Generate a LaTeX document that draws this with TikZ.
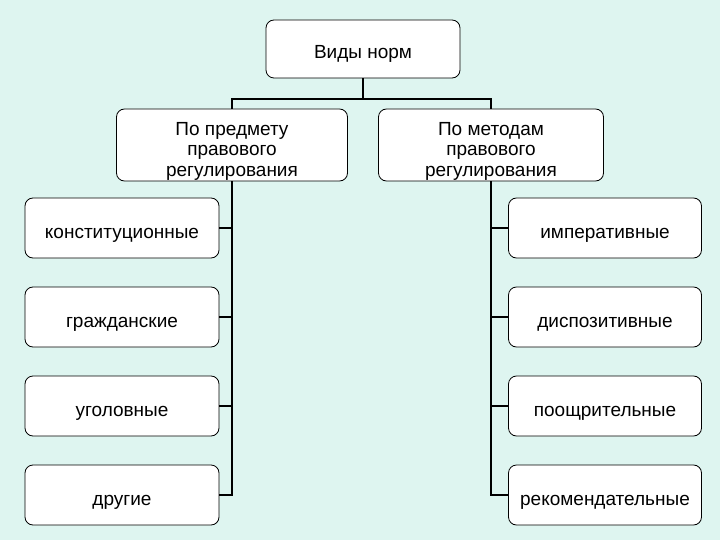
\documentclass[tikz,border=0pt]{standalone}
\usepackage{fontspec}
\setmainfont{Liberation Sans}
\definecolor{mint}{RGB}{222,245,240}

\begin{document}
\begin{tikzpicture}[x=1pt, y=-1pt,
    box/.style={draw, fill=white, rounded corners=8pt, line width=0.8pt,
                align=center, inner sep=0pt,
                font=\fontsize{19}{20.5}\selectfont},
    onebox/.style={box, text height=20pt, text depth=0pt},
    threebox/.style={box, text height=66pt},
    link/.style={line width=2pt}]

    \fill[color=mint] (0, 0) rectangle (720, 540);
    \useasboundingbox (0, 0) rectangle (720, 540);

    \node[onebox, minimum width=194pt, minimum height=58pt] (vidy) at (363, 49) {Виды норм};

    \node[threebox, minimum width=231pt, minimum height=72pt] (predmet) at (232, 145)
        {По предмету\\правового\\регулирования};
    \node[threebox, minimum width=225pt, minimum height=72pt] (metod) at (491, 145)
        {По методам\\правового\\регулирования};

    % left column
    \node[onebox, minimum width=194pt, minimum height=60pt] (konst) at (122, 228) {конституционные};
    \node[onebox, minimum width=194pt, minimum height=60pt] (grazh) at (122, 317) {гражданские};
    \node[onebox, minimum width=194pt, minimum height=60pt] (ugol)  at (122, 406) {уголовные};
    \node[onebox, minimum width=194pt, minimum height=60pt] (drug)  at (122, 495) {другие};

    % right column
    \node[onebox, minimum width=193pt, minimum height=60pt] (imper)   at (605, 228) {императивные};
    \node[onebox, minimum width=193pt, minimum height=60pt] (dispoz)  at (605, 317) {диспозитивные};
    \node[onebox, minimum width=193pt, minimum height=60pt] (pooshch) at (605, 406) {поощрительные};
    \node[onebox, minimum width=193pt, minimum height=60pt] (rekom)   at (605, 495) {рекомендательные};

    \draw[link] (vidy.south) -- ++(0, 21) coordinate (fork);
    \draw[link] (predmet.north) |- (fork) -| (metod.north);

    \draw[link] (predmet.south) |- (drug.east);
    \foreach \n in {konst, grazh, ugol}
        \draw[link] (predmet.south |- \n.east) -- (\n.east);

    \draw[link] (metod.south) |- (rekom.west);
    \foreach \n in {imper, dispoz, pooshch}
        \draw[link] (metod.south |- \n.west) -- (\n.west);

\end{tikzpicture}
\end{document}
